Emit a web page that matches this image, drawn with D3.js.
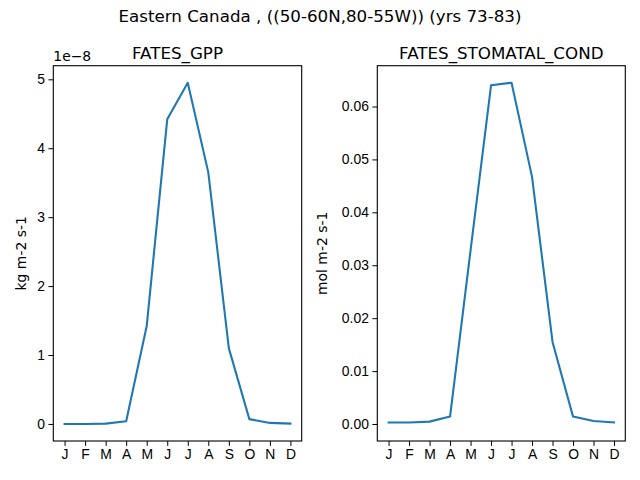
<!DOCTYPE html>
<html>
<head>
<meta charset="utf-8">
<script src="https://cdn.jsdelivr.net/npm/d3@7"></script>
<style>
    body { margin: 0; background: #fff; }
    svg { font-family: "DejaVu Sans", sans-serif; }
    .tick text { font-size: 13.9px; fill: #000; }
    .tick line, .domain { stroke: #000; }
</style>
</head>
<body>
<div id="chart"></div>
<script>
const WIDTH = 640;
const HEIGHT = 480;

const MONTHS = ['J', 'F', 'M', 'A', 'M', 'J', 'J', 'A', 'S', 'O', 'N', 'D'];

// GPP in units of 1e-8 kg m-2 s-1
const GPP = [0.0, 0.0, 0.005, 0.04, 1.42, 4.42, 4.95, 3.65, 1.10, 0.07, 0.015, 0.005];
const GPP_TICKS = [0, 1, 2, 3, 4, 5];

// stomatal conductance, mol m-2 s-1
const STOMATAL = [0.0003, 0.0003, 0.00045, 0.0014, 0.0328, 0.064, 0.0645, 0.0467, 0.0155, 0.0014, 0.00056, 0.0003];
const STOMATAL_TICKS = [0, 0.01, 0.02, 0.03, 0.04, 0.05, 0.06];

const svg = d3.select("#chart").append("svg")
    .attr("width", WIDTH)
    .attr("height", HEIGHT);

svg.append("text")
    .attr("x", WIDTH / 2)
    .attr("y", 22)
    .attr("text-anchor", "middle")
    .style("font-size", "16.7px")
    .text("Eastern Canada , ((50-60N,80-55W)) (yrs 73-83)");

function drawPanel(opts) {
    const w = opts.right - opts.left;
    const h = opts.bottom - opts.top;
    const g = svg.append("g").attr("transform", `translate(${opts.left},${opts.top})`);

    // matplotlib style 5% margins
    const x = d3.scaleLinear()
        .domain([-0.55, MONTHS.length - 1 + 0.55])
        .range([0, w]);

    const lo = d3.min(opts.values), hi = d3.max(opts.values);
    const pad = (hi - lo) * 0.05;
    const y = d3.scaleLinear()
        .domain([Math.min(lo, 0) - pad, hi + pad])
        .range([h, 0]);

    const xAxis = d3.axisBottom(x)
        .tickValues(d3.range(MONTHS.length))
        .tickFormat(i => MONTHS[i])
        .tickSizeInner(4.9)
        .tickSizeOuter(0)
        .tickPadding(3.5);
    g.append("g")
        .attr("transform", `translate(0,${h})`)
        .call(xAxis)
        .call(a => a.select(".domain").remove());

    const yAxis = d3.axisLeft(y)
        .tickValues(opts.ticks)
        .tickFormat(opts.format)
        .tickSizeInner(4.9)
        .tickSizeOuter(0)
        .tickPadding(3.5);
    g.append("g")
        .call(yAxis)
        .call(a => a.select(".domain").remove());

    const line = d3.line()
        .x((d, i) => x(i))
        .y(d => y(d));
    g.append("path")
        .datum(opts.values)
        .attr("fill", "none")
        .attr("stroke", "#1f77b4")
        .attr("stroke-width", 2.08)
        .attr("stroke-linejoin", "round")
        .attr("stroke-linecap", "square")
        .attr("d", line);

    // frame
    g.append("rect")
        .attr("width", w)
        .attr("height", h)
        .attr("fill", "none")
        .attr("stroke", "#000")
        .attr("stroke-width", 1.1);

    g.append("text")
        .attr("x", w / 2)
        .attr("y", -7)
        .attr("text-anchor", "middle")
        .style("font-size", "16.7px")
        .text(opts.title);

    g.append("text")
        .attr("transform", `translate(${opts.labelX - opts.left},${h / 2}) rotate(-90)`)
        .attr("text-anchor", "middle")
        .style("font-size", "13.9px")
        .text(opts.ylabel);

    if (opts.offset) {
        g.append("text")
            .attr("x", 0)
            .attr("y", -5)
            .style("font-size", "13.9px")
            .text(opts.offset);
    }
}

drawPanel({
    left: 53.3, right: 301.7, top: 65.7, bottom: 441,
    values: GPP, ticks: GPP_TICKS, format: d3.format("d"),
    title: "FATES_GPP", ylabel: "kg m-2 s-1", labelX: 26, offset: "1e\u22128"
});

drawPanel({
    left: 377.3, right: 625.3, top: 65.7, bottom: 441,
    values: STOMATAL, ticks: STOMATAL_TICKS, format: d3.format(".2f"),
    title: "FATES_STOMATAL_COND", ylabel: "mol m-2 s-1", labelX: 327
});
</script>
</body>
</html>
